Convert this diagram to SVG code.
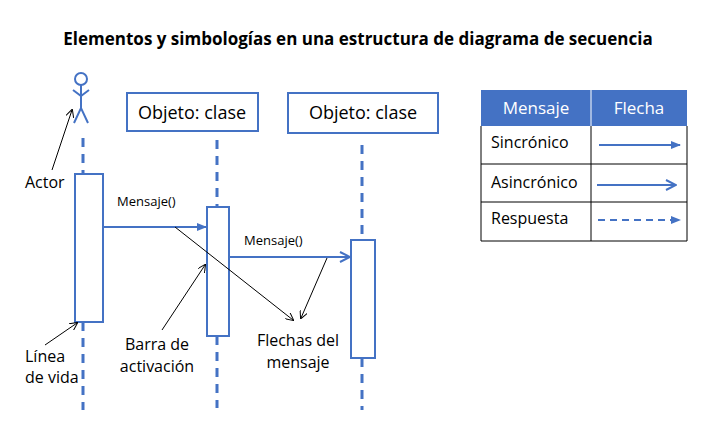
<svg xmlns="http://www.w3.org/2000/svg" width="716" height="441" viewBox="0 0 716 441">
<style>
text{font-family:"Open Sans","Liberation Sans",sans-serif;fill:#000}
.b{fill:#fff;stroke:#4472c4;stroke-width:2}
.d{stroke:#4472c4;stroke-width:3;stroke-dasharray:9,7;fill:none}
.m{stroke:#4472c4;stroke-width:2;fill:none}
.k{stroke:#000;stroke-width:1;fill:none}
.g{stroke:#000;stroke-width:1}
</style>
<defs>
<marker id="fa" markerWidth="10" markerHeight="8" refX="9" refY="4" orient="auto" markerUnits="userSpaceOnUse"><path d="M0,0L10,4L0,8z" fill="#4472c4"/></marker>
<marker id="oa" markerWidth="12" markerHeight="12" refX="11" refY="6" orient="auto" markerUnits="userSpaceOnUse"><path d="M1,1L11,6L1,11" fill="none" stroke="#4472c4" stroke-width="2"/></marker>
<marker id="ka" markerWidth="8" markerHeight="8" refX="7" refY="4" orient="auto" markerUnits="userSpaceOnUse"><path d="M0,0L8,4L0,8" fill="none" stroke="#000" stroke-width="1"/></marker>
</defs>
<rect width="716" height="441" fill="#fff"/>
<text x="358" y="45" text-anchor="middle" font-size="17" font-weight="bold">Elementos y simbologías  en una estructura de diagrama de secuencia</text>
<g id="actor">
<circle cx="81" cy="79" r="6" class="m" stroke-width="1.5"/>
<path d="M81,85V108M73,90L81,96L89,90M74,123L81,108L88,123" class="m" stroke-width="1.5"/>
<line x1="83" y1="138" x2="83" y2="174" class="d"/>
<line x1="83" y1="322" x2="83" y2="410" class="d"/>
<rect x="75" y="174" width="28" height="148" class="b"/>
</g>
<g id="obj1">
<rect x="127" y="93" width="131" height="38" class="b"/>
<text x="192" y="119" text-anchor="middle" font-size="18">Objeto: clase</text>
<line x1="217" y1="140" x2="217" y2="207" class="d"/>
<line x1="217" y1="336" x2="217" y2="408" class="d"/>
<rect x="207" y="207" width="22" height="129" class="b"/>
</g>
<g id="obj2">
<rect x="288" y="93" width="150" height="40" class="b"/>
<text x="363" y="119" text-anchor="middle" font-size="18">Objeto: clase</text>
<line x1="362" y1="145" x2="362" y2="240" class="d"/>
<line x1="362" y1="358" x2="362" y2="410" class="d"/>
<rect x="351" y="240" width="24" height="118" class="b"/>
</g>
<g id="connectors">
<line x1="103" y1="227" x2="206" y2="227" class="m" marker-end="url(#fa)"/>
<text x="117" y="206" font-size="13">Mensaje()</text>
<line x1="229" y1="257" x2="350" y2="257" class="m" marker-end="url(#oa)"/>
<text x="244" y="245" font-size="13">Mensaje()</text>
<line x1="52" y1="170" x2="72" y2="110" class="k" marker-end="url(#ka)"/>
<line x1="45" y1="345" x2="77" y2="323" class="k" marker-end="url(#ka)"/>
<line x1="162" y1="330" x2="205" y2="265" class="k" marker-end="url(#ka)"/>
<line x1="175" y1="227" x2="293" y2="320" class="k" marker-end="url(#ka)"/>
<line x1="327" y1="258" x2="301" y2="318" class="k" marker-end="url(#ka)"/>
</g>
<g id="labels">
<text x="25" y="188" font-size="16">Actor</text>
<text x="25" y="362" font-size="16">Línea</text>
<text x="25" y="383" font-size="16">de vida</text>
<text x="157" y="350" text-anchor="middle" font-size="16">Barra de</text>
<text x="157" y="372" text-anchor="middle" font-size="16">activación</text>
<text x="298" y="346" text-anchor="middle" font-size="16">Flechas del</text>
<text x="298" y="368" text-anchor="middle" font-size="16">mensaje</text>
</g>
<g id="table">
<rect x="481" y="90" width="206" height="36" fill="#4472c4"/>
<line x1="591" y1="90" x2="591" y2="126" stroke="#fff" stroke-width="1"/>
<text x="536" y="114" text-anchor="middle" font-size="17" style="fill:#fff">Mensaje</text>
<text x="639" y="114" text-anchor="middle" font-size="17" style="fill:#fff">Flecha</text>
<path d="M481,126V241H687V126M481,164H687M481,202H687M591,126V241" class="g" fill="none"/>
<text x="491" y="148" font-size="16">Sincrónico</text>
<text x="491" y="188" font-size="16">Asincrónico</text>
<text x="491" y="224" font-size="16">Respuesta</text>
<line x1="599" y1="145" x2="680" y2="145" class="m" marker-end="url(#fa)"/>
<line x1="597" y1="185" x2="676" y2="185" class="m" marker-end="url(#oa)"/>
<line x1="598" y1="220" x2="680" y2="220" class="m" stroke-dasharray="7,5" marker-end="url(#fa)"/>
</g>
</svg>
